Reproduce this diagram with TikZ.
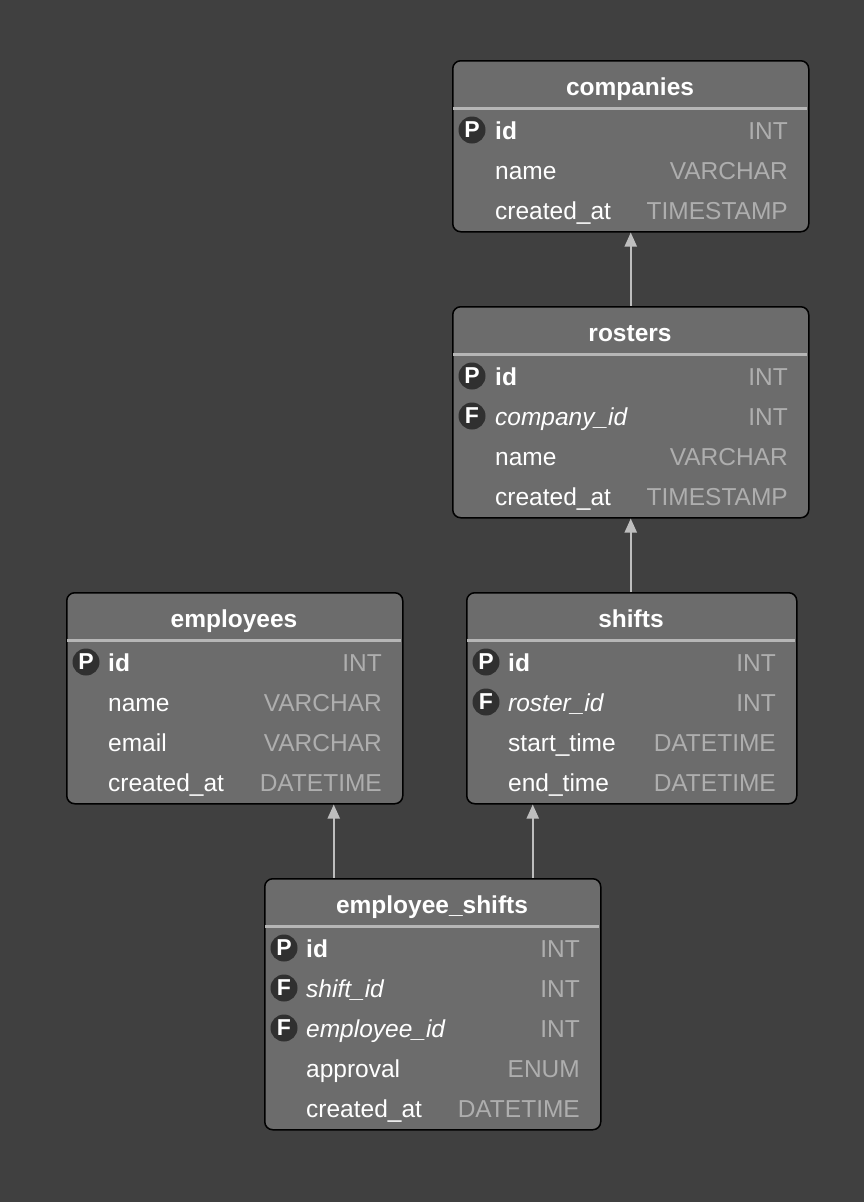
\documentclass[tikz,border=0pt]{standalone}
\usepackage{fontspec}
\setmainfont{Liberation Sans}
\usetikzlibrary{arrows.meta,positioning,calc}
\definecolor{canvas}{RGB}{64,64,64}
\definecolor{tblfill}{RGB}{108,108,108}
\definecolor{sepgray}{RGB}{182,182,182}
\definecolor{typgray}{RGB}{174,174,174}
\definecolor{badgefill}{RGB}{48,48,48}
\definecolor{linkgray}{RGB}{190,190,190}

\begin{document}
\begin{tikzpicture}[x=1pt,y=-1pt]
  \tikzset{
    tbl/.style={draw=black,line width=1.5pt,rounded corners=8pt,fill=tblfill,
      anchor=north west,inner sep=0pt},
    ttl/.style={anchor=base,text=white,font=\bfseries\fontsize{24.5}{28}\selectfont},
    sep/.style={draw=sepgray,line width=3pt},
    col/.style={anchor=base west,inner sep=0pt,text=white,font=\fontsize{24.5}{28}\selectfont},
    typ/.style={anchor=base east,inner sep=0pt,text=typgray,font=\fontsize{24.5}{28}\selectfont},
    badge/.style={circle,fill=badgefill,text=white,inner sep=0pt,minimum size=27pt,
      font=\bfseries\fontsize{23}{23}\selectfont},
    fk/.style={draw=linkgray,line width=2pt,-{Triangle[length=14pt,width=12pt]}}
  }
  \fill[canvas] (0,0) rectangle (864,1202);

  % companies
  \begin{scope}[shift={(452,60)}]
    \node[tbl,minimum width=356pt,minimum height=171pt] (companies) at (0,0) {};
    \node[ttl] at (178,35) {companies};
    \draw[sep] (1,48) -- (355,48);
    \foreach[count=\i] \k/\f/\t in {P/\textbf{id}/INT,/name/VARCHAR,/created\_at/TIMESTAMP}{
      \node[col] (companies-\i) at (43,39+40*\i) {\f};
      \node[typ] at (336,39+40*\i) {\t};
      \ifx\k\empty\else\node[badge] at (20,30+40*\i) {\k};\fi
    }
  \end{scope}

  % rosters
  \begin{scope}[shift={(452,306)}]
    \node[tbl,minimum width=356pt,minimum height=211pt] (rosters) at (0,0) {};
    \node[ttl] at (178,35) {rosters};
    \draw[sep] (1,48) -- (355,48);
    \foreach[count=\i] \k/\f/\t in {P/\textbf{id}/INT,F/\textit{company\_id}/INT,
        /name/VARCHAR,/created\_at/TIMESTAMP}{
      \node[col] (rosters-\i) at (43,39+40*\i) {\f};
      \node[typ] at (336,39+40*\i) {\t};
      \ifx\k\empty\else\node[badge] at (20,30+40*\i) {\k};\fi
    }
  \end{scope}

  % employees
  \begin{scope}[shift={(66,592)}]
    \node[tbl,minimum width=336pt,minimum height=211pt] (employees) at (0,0) {};
    \node[ttl] at (168,35) {employees};
    \draw[sep] (1,48) -- (335,48);
    \foreach[count=\i] \k/\f/\t in {P/\textbf{id}/INT,/name/VARCHAR,/email/VARCHAR,
        /created\_at/DATETIME}{
      \node[col] (employees-\i) at (42,39+40*\i) {\f};
      \node[typ] at (316,39+40*\i) {\t};
      \ifx\k\empty\else\node[badge] at (20,30+40*\i) {\k};\fi
    }
  \end{scope}

  % shifts
  \begin{scope}[shift={(466,592)}]
    \node[tbl,minimum width=330pt,minimum height=211pt] (shifts) at (0,0) {};
    \node[ttl] at (165,35) {shifts};
    \draw[sep] (1,48) -- (329,48);
    \foreach[count=\i] \k/\f/\t in {P/\textbf{id}/INT,F/\textit{roster\_id}/INT,
        /start\_time/DATETIME,/end\_time/DATETIME}{
      \node[col] (shifts-\i) at (42,39+40*\i) {\f};
      \node[typ] at (310,39+40*\i) {\t};
      \ifx\k\empty\else\node[badge] at (20,30+40*\i) {\k};\fi
    }
  \end{scope}

  % employee_shifts
  \begin{scope}[shift={(264,878)}]
    \node[tbl,minimum width=336pt,minimum height=251pt] (empshifts) at (0,0) {};
    \node[ttl] at (168,35) {employee\_shifts};
    \draw[sep] (1,48) -- (335,48);
    \foreach[count=\i] \k/\f/\t in {P/\textbf{id}/INT,F/\textit{shift\_id}/INT,
        F/\textit{employee\_id}/INT,/approval/ENUM,/created\_at/DATETIME}{
      \node[col] (empshifts-\i) at (42,39+40*\i) {\f};
      \node[typ] at (316,39+40*\i) {\t};
      \ifx\k\empty\else\node[badge] at (20,30+40*\i) {\k};\fi
    }
  \end{scope}

  % links
  \coordinate (es-emp) at ($(empshifts.north)+(-99,0)$);
  \coordinate (es-shf) at ($(empshifts.north)+(100,0)$);
  \draw[fk] (rosters.north) -- (companies.south);
  \draw[fk] (shifts.north -| rosters.south) -- (rosters.south);
  \draw[fk] (es-emp) -- (es-emp |- employees.south);
  \draw[fk] (es-shf) -- (es-shf |- shifts.south);
\end{tikzpicture}
\end{document}
